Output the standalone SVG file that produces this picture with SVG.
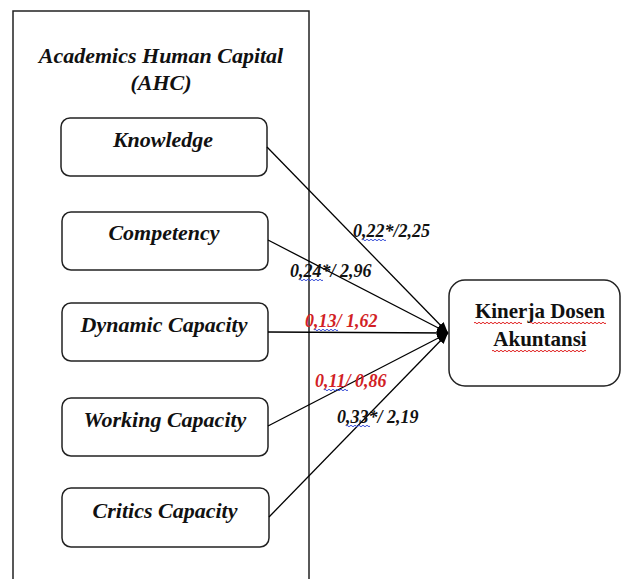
<svg xmlns="http://www.w3.org/2000/svg" width="622" height="579" viewBox="0 0 622 579">
  <defs>
    <marker id="arrow" viewBox="0 0 11 9" refX="11" refY="4.5" markerWidth="11" markerHeight="9" markerUnits="userSpaceOnUse" orient="auto">
      <path d="M0,0 L11,4.5 L0,9 Z" fill="#000"/>
    </marker>
  </defs>
  <style>
    .frame { fill: #fff; stroke: #222; stroke-width: 1.5; }
    .box { fill: #fff; stroke: #222; stroke-width: 1.5; }
    .node-text { font-family: "Liberation Serif", "Times New Roman", serif; font-size: 22px; font-weight: bold; font-style: italic; fill: #111; text-anchor: middle; }
    .title { font-family: "Liberation Serif", "Times New Roman", serif; font-size: 22px; font-weight: bold; font-style: italic; fill: #111; text-anchor: middle; }
    .target-text { font-family: "Liberation Serif", "Times New Roman", serif; font-size: 21px; font-weight: bold; fill: #111; text-anchor: middle; }
    .link { stroke: #000; stroke-width: 1.3; fill: none; marker-end: url(#arrow); }
    .coef { font-family: "Liberation Serif", "Times New Roman", serif; font-size: 18px; font-weight: bold; font-style: italic; fill: #111; }
    .coef.ns { fill: #d21f26; }
    .wave-blue { stroke: #3a4fd8; stroke-width: 1; fill: none; }
    .wave-red { stroke: #e02020; stroke-width: 1; fill: none; }
  </style>

  <!-- construct frame -->
  <g id="ahc">
    <rect class="frame" x="13" y="11" width="296" height="600"/>
    <text class="title" x="161" y="63">Academics Human Capital</text>
    <text class="title" x="161" y="90">(AHC)</text>
  </g>

  <!-- indicator nodes -->
  <g id="knowledge">
    <rect class="box" x="61" y="118" width="206" height="58" rx="9"/>
    <text class="node-text" x="163" y="147">Knowledge</text>
  </g>
  <g id="competency">
    <rect class="box" x="62" y="212" width="206" height="58" rx="9"/>
    <text class="node-text" x="164" y="240">Competency</text>
  </g>
  <g id="dynamic-capacity">
    <rect class="box" x="62" y="303" width="206" height="58" rx="9"/>
    <text class="node-text" x="164" y="332">Dynamic Capacity</text>
  </g>
  <g id="working-capacity">
    <rect class="box" x="62" y="398" width="206" height="58" rx="9"/>
    <text class="node-text" x="165" y="427">Working Capacity</text>
  </g>
  <g id="critics-capacity">
    <rect class="box" x="62" y="488" width="207" height="59" rx="9"/>
    <text class="node-text" x="165" y="518">Critics Capacity</text>
  </g>

  <!-- dependent variable -->
  <g id="kinerja-dosen">
    <rect class="box" x="449" y="280" width="171" height="106" rx="16"/>
    <text class="target-text" x="540" y="318">Kinerja Dosen</text>
    <text class="target-text" x="540" y="346">Akuntansi</text>
    <path class="wave-red" d="M474,323 q1,-1.5 2,0 t2,0 t2,0 t2,0 t2,0 t2,0 t2,0 t2,0 t2,0 t2,0 t2,0 t2,0 t2,0 t2,0 t2,0 t2,0 t2,0 t2,0 t2,0 t2,0 t2,0 t2,0 t2,0 t2,0"/>
    <path class="wave-red" d="M530,323 q1,-1.5 2,0 t2,0 t2,0 t2,0 t2,0 t2,0 t2,0 t2,0 t2,0 t2,0 t2,0 t2,0 t2,0 t2,0 t2,0 t2,0 t2,0 t2,0 t2,0 t2,0 t2,0 t2,0 t2,0 t2,0 t2,0 t2,0 t2,0 t2,0 t2,0 t2,0 t2,0 t2,0 t2,0 t2,0 t2,0 t2,0 t2,0 t2,0"/>
    <path class="wave-red" d="M492,351 q1,-1.5 2,0 t2,0 t2,0 t2,0 t2,0 t2,0 t2,0 t2,0 t2,0 t2,0 t2,0 t2,0 t2,0 t2,0 t2,0 t2,0 t2,0 t2,0 t2,0 t2,0 t2,0 t2,0 t2,0 t2,0 t2,0 t2,0 t2,0 t2,0 t2,0 t2,0 t2,0 t2,0 t2,0 t2,0 t2,0 t2,0 t2,0 t2,0 t2,0 t2,0 t2,0 t2,0 t2,0 t2,0 t2,0 t2,0 t2,0"/>
  </g>

  <!-- paths into the dependent variable -->
  <g id="connectors">
    <line class="link" x1="267" y1="147" x2="448" y2="333"/>
    <line class="link" x1="268" y1="240" x2="448" y2="333"/>
    <line class="link" x1="268" y1="332" x2="448" y2="333"/>
    <line class="link" x1="268" y1="426" x2="448" y2="333"/>
    <line class="link" x1="269" y1="517" x2="448" y2="333"/>
  </g>

  <!-- path coefficients / t-values -->
  <g id="coefficients">
    <text class="coef" x="353" y="237">0,22*/2,25</text>
    <path class="wave-blue" d="M362,240 q1,-1.5 2,0 t2,0 t2,0 t2,0 t2,0 t2,0 t2,0 t2,0 t2,0 t2,0 t2,0 t2,0"/>
    <text class="coef" x="290" y="277">0,24*/ 2,96</text>
    <path class="wave-blue" d="M299,280 q1,-1.5 2,0 t2,0 t2,0 t2,0 t2,0 t2,0 t2,0 t2,0 t2,0 t2,0 t2,0 t2,0"/>
    <text class="coef ns" x="305" y="327">0,13/ 1,62</text>
    <path class="wave-blue" d="M314,330 q1,-1.5 2,0 t2,0 t2,0 t2,0 t2,0 t2,0 t2,0 t2,0 t2,0 t2,0 t2,0 t2,0"/>
    <text class="coef ns" x="315" y="387">0,11/ 0,86</text>
    <path class="wave-blue" d="M324,390 q1,-1.5 2,0 t2,0 t2,0 t2,0 t2,0 t2,0 t2,0 t2,0 t2,0 t2,0 t2,0 t2,0"/>
    <text class="coef" x="337" y="423">0,33*/ 2,19</text>
    <path class="wave-blue" d="M346,426 q1,-1.5 2,0 t2,0 t2,0 t2,0 t2,0 t2,0 t2,0 t2,0 t2,0 t2,0 t2,0 t2,0"/>
  </g>
</svg>
